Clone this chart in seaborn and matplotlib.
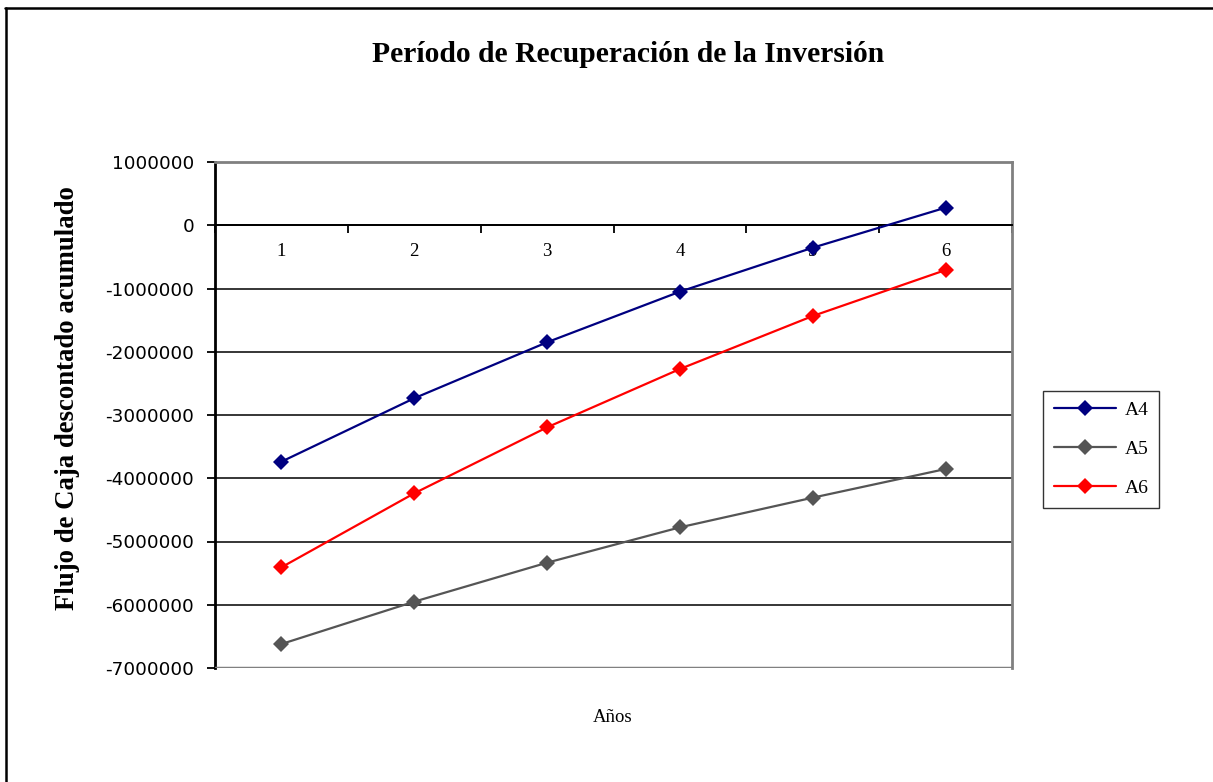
import matplotlib
matplotlib.use("Agg")
import matplotlib.pyplot as plt
from matplotlib.lines import Line2D
from matplotlib.ticker import FixedLocator, FuncFormatter
import numpy as np
import pandas as pd
import seaborn as sns

# Cumulative discounted cash flow per year for three alternatives
anios = ["1", "2", "3", "4", "5", "6"]
serie_a4 = [-3738000, -2735000, -1850000, -1050000, -355000, 278000]
serie_a5 = [-6621000, -5951000, -5335000, -4776000, -4307000, -3854000]
serie_a6 = [-5408000, -4238000, -3195000, -2273000, -1435000, -708000]
nombres = ["A4", "A5", "A6"]
colores = {"A4": "#000080", "A5": "#555555", "A6": "#FF0000"}

titulo = "Período de Recuperación de la Inversión"
etiqueta_y = "Flujo de Caja descontado acumulado"
etiqueta_x = "Años"

sns.set_theme(style="white")
plt.rcParams["axes.unicode_minus"] = False
plt.rcParams["text.color"] = "black"
plt.rcParams["xtick.color"] = "black"
plt.rcParams["ytick.color"] = "black"

filas = []
for nombre, valores in zip(nombres, [serie_a4, serie_a5, serie_a6]):
    for i, v in enumerate(valores):
        filas.append({"pos": i, "anio": anios[i], "serie": nombre, "valor": v})
df = pd.DataFrame(filas)

fig = plt.figure(figsize=(12.13, 7.82), dpi=100)
ax = fig.add_axes([215 / 1213, 1 - 668 / 782, (1012 - 215) / 1213, (668 - 162) / 782])

sns.lineplot(
    data=df, x="pos", y="valor", hue="serie", style="serie",
    palette=colores, markers={n: "D" for n in nombres}, dashes=False,
    linewidth=1.6, markersize=8, markeredgewidth=0, ax=ax, legend=True,
    zorder=4,
)

ax.set_xlim(-0.5, len(anios) - 0.5)
ax.set_ylim(-7000000, 1000000)

# Horizontal gridlines
yticks = np.arange(-7000000, 1000001, 1000000)
ax.yaxis.set_major_locator(FixedLocator(yticks))
ax.yaxis.set_major_formatter(FuncFormatter(lambda v, p: f"{int(round(v))}"))
ax.grid(axis="y", color="black", linewidth=1.1, zorder=1)
ax.grid(axis="x", visible=False)
ax.set_axisbelow(True)

# Category axis crosses at zero
ax.spines["bottom"].set_position(("data", 0))
ax.spines["bottom"].set_color("black")
ax.spines["bottom"].set_linewidth(1.4)
ax.spines["left"].set_color("black")
ax.spines["left"].set_linewidth(2.0)
for s in ("top", "right"):
    ax.spines[s].set_color("#808080")
    ax.spines[s].set_linewidth(2.0)
ax.axhline(-7000000, color="#808080", linewidth=2.5, zorder=3)

ax.set_xticks(np.arange(-0.5, len(anios), 1.0))
ax.set_xticklabels([])
ax.set_xticks(np.arange(len(anios)), minor=True)
ax.set_xticklabels(anios, minor=True, fontfamily="Liberation Serif", fontsize=13.5)
ax.tick_params(axis="x", which="major", direction="out", length=6, width=1.3,
               color="black", bottom=True)
ax.tick_params(axis="x", which="minor", length=0, pad=13, bottom=True)
ax.tick_params(axis="y", direction="out", length=6, width=1.3, color="black",
               left=True, pad=9, labelsize=13.2)
for t in ax.get_yticklabels():
    t.set_fontfamily("DejaVu Sans")

ax.set_xlabel("")
ax.set_ylabel("")
fig.text(613 / 1213, 1 - 718 / 782, etiqueta_x, ha="center", va="center",
         fontfamily="Liberation Serif", fontsize=13.5)
fig.text(68 / 1213, 1 - 398 / 782, etiqueta_y, ha="center", va="center",
         rotation=90, fontfamily="Liberation Serif", fontweight="bold", fontsize=19.3)
fig.text(628 / 1213, 1 - 55 / 782, titulo, ha="center", va="center",
         fontfamily="Liberation Serif", fontweight="bold", fontsize=21.3)

leg = ax.legend(
    loc="center left", bbox_to_anchor=(1043 / 1213, 1 - 449 / 782),
    bbox_transform=fig.transFigure, frameon=True, fancybox=False,
    edgecolor="black", handlelength=3.2, labelspacing=1.1,
    borderpad=0.55, borderaxespad=0, handletextpad=0.45, title=None,
    prop={"family": "Liberation Serif", "size": 14},
)
leg.get_frame().set_linewidth(1.0)

# Outer chart frame (top and left edges)
fig.add_artist(Line2D([5 / 1213, 1.0], [1 - 8 / 782, 1 - 8 / 782],
                      transform=fig.transFigure, color="black", linewidth=1.8))
fig.add_artist(Line2D([6 / 1213, 6 / 1213], [1 - 8 / 782, 0.0],
                      transform=fig.transFigure, color="black", linewidth=1.8))

fig.savefig("out.png", dpi=100, facecolor="white")
